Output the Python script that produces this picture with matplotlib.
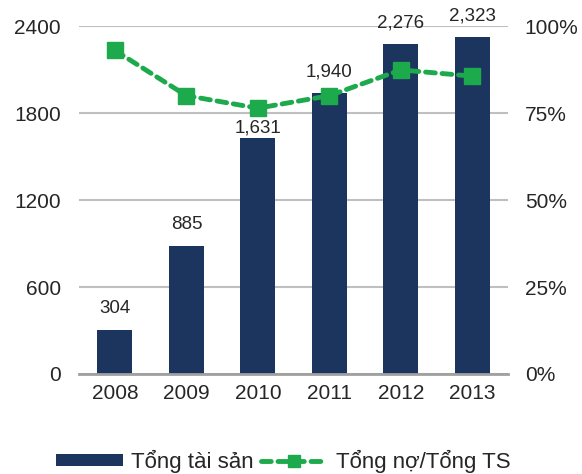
import matplotlib.pyplot as plt
from matplotlib.ticker import FuncFormatter

plt.rcParams['font.family'] = ['Liberation Sans', 'DejaVu Sans']

years = ["2008", "2009", "2010", "2011", "2012", "2013"]
total_assets = [304, 885, 1631, 1940, 2276, 2323]
debt_ratio = [0.93, 0.80, 0.764, 0.80, 0.874, 0.856]

NAVY = "#1b355e"
GREEN = "#1daa4c"
TEXT = "#262626"

fig = plt.figure(figsize=(5.82, 4.74), dpi=100)
ax = fig.add_axes([0.136, 0.211, 0.737, 0.734])
ax2 = ax.twinx()

x = range(len(years))
bars = ax.bar(x, total_assets, width=0.49, color=NAVY, zorder=2, label="Tổng tài sản")

# the 2010 label sits tight on its bar so it stays clear of the line
nudge = {"2010": 1}
for xi, yr, v in zip(x, years, total_assets):
    ax.annotate(f"{v:,}", (xi, v), xytext=(0, nudge.get(yr, 9)), textcoords="offset points",
                ha="center", va="bottom", fontsize=13.5, color=TEXT)

ax.set_ylim(0, 2400)
ax.set_yticks([0, 600, 1200, 1800, 2400])
ax.set_xlim(-0.5, 5.5)
ax.set_xticks(list(x))
ax.set_xticklabels(years)
ax.grid(axis="y", color="#bfbfbf", linewidth=1.5, zorder=0)
ax.set_axisbelow(True)
for side in ["top", "right", "left"]:
    ax.spines[side].set_visible(False)
ax.spines["bottom"].set_color("#a0a0a0")
ax.spines["bottom"].set_linewidth(2)
ax.tick_params(length=0, labelsize=15, colors=TEXT, pad=7)
ax.tick_params(axis="y", pad=13)

line, = ax2.plot(x, debt_ratio, color=GREEN, linestyle=(0, (2.0, 1.4)), linewidth=3.5,
                 dash_capstyle="round", marker="s", markersize=12, zorder=3,
                 label="Tổng nợ/Tổng TS")
ax2.set_ylim(0, 1)
ax2.set_yticks([0, 0.25, 0.5, 0.75, 1.0])
ax2.yaxis.set_major_formatter(FuncFormatter(lambda v, _: f"{v:.0%}"))
for side in ["top", "right", "left", "bottom"]:
    ax2.spines[side].set_visible(False)
ax2.tick_params(length=0, labelsize=15, colors=TEXT, pad=12)

leg = fig.legend(handles=[bars, line], loc="center", bbox_to_anchor=(0.487, 0.027),
                 ncol=2, frameon=False, fontsize=16, handlelength=3.0, handleheight=0.5,
                 handletextpad=0.4, columnspacing=0.3, markerscale=0.75)
for t in leg.get_texts():
    t.set_color(TEXT)

fig.savefig("out.png", dpi=100)
